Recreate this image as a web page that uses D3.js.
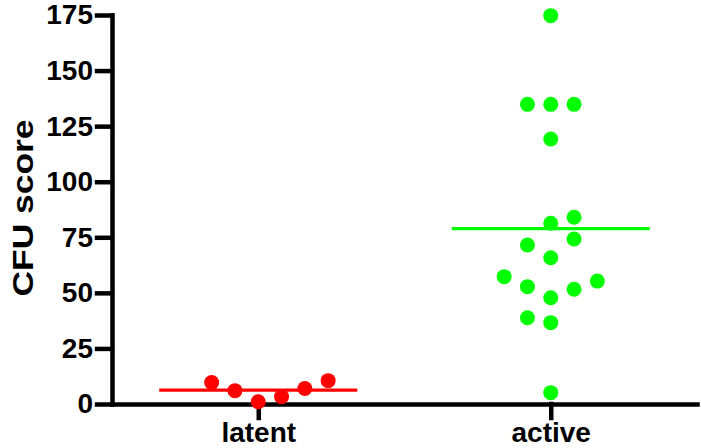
<!DOCTYPE html>
<html lang="en">
	<head>
		<meta charset="utf-8">
		<title></title>
		<script type="text/javascript" src="https://cdn.jsdelivr.net/npm/d3@7"></script>
		<style type="text/css">
			body { margin: 0; background: #fff; }
			text { font-family: Arial, "Liberation Sans", sans-serif; font-weight: bold; fill: #000; }
		</style>
	</head>
	<body>
		<script type="text/javascript">

			//Width and height
			var w = 701;
			var h = 448;

			//Data
			var categories = ["latent", "active"];
			var yTicks = [0, 25, 50, 75, 100, 125, 150, 175];

			var latentValues = [9.7, 6.0, 1.0, 3.3, 7.0, 10.5];
			var latentSlots  = [-2, -1, 0, 1, 2, 3];

			var activeValues = [174.7, 134.8, 134.8, 134.8, 119.2, 84.0, 81.3, 74.2, 71.5,
			                    65.8, 57.3, 55.3, 52.8, 51.6, 47.8, 38.8, 36.6, 5.1];
			var activeSlots  = [0, -1, 0, 1, 0, 1, 0, 1, -1,
			                    0, -2, 2, -1, 1, 0, -1, 0, 0];

			var colors = ["#ff0000", "#00ff00"];

			var groups = [
				{ name: categories[0], values: latentValues, slots: latentSlots, color: colors[0] },
				{ name: categories[1], values: activeValues, slots: activeSlots, color: colors[1] }
			];

			var svg = d3.select("body")
						.append("svg")
						.attr("width", w)
						.attr("height", h);

			var xScale = d3.scalePoint()
				.domain(categories)
				.range([112, 697])
				.padding(0.5);

			var yScale = d3.scaleLinear()
				.domain([0, 175])
				.range([404, 15]);

			//horizontal spread of the dots, in slot units
			var slotScale = d3.scaleLinear().domain([0, 1]).range([0, 23.3]);

			//Axes
			var yAxis = d3.axisLeft(yScale)
				.tickValues(yTicks)
				.tickSize(15)
				.tickSizeOuter(0)
				.tickPadding(4);

			var xAxis = d3.axisBottom(xScale)
				.tickSize(14)
				.tickSizeOuter(0)
				.tickPadding(4);

			var gx = svg.append("g")
				.attr("class", "axis")
				.attr("transform", "translate(0," + yScale(0) + ")")
				.call(xAxis);

			var gy = svg.append("g")
				.attr("class", "axis")
				.attr("transform", "translate(" + xScale.range()[0] + ",0)")
				.call(yAxis);

			svg.selectAll(".axis path, .axis line")
				.attr("stroke", "#000")
				.attr("stroke-width", 4.5)
				.attr("stroke-linecap", "square");

			svg.selectAll(".axis text")
				.attr("fill", "#000")
				.style("font-size", "28px")
				.style("font-family", "Arial, 'Liberation Sans', sans-serif")
				.style("font-weight", "bold");

			//Y title
			svg.append("text")
				.attr("transform", "translate(33,208) rotate(-90)")
				.attr("text-anchor", "middle")
				.attr("textLength", 177)
				.attr("lengthAdjust", "spacingAndGlyphs")
				.style("font-size", "30px")
				.text("CFU score");

			//Dots and mean lines
			groups.forEach(function(g) {
				var cx = xScale(g.name);

				svg.append("g")
					.selectAll("circle")
					.data(g.values)
					.enter()
					.append("circle")
					.attr("cx", function(d, i) { return cx + slotScale(g.slots[i]); })
					.attr("cy", function(d) { return yScale(d); })
					.attr("r", 7.5)
					.attr("fill", g.color);

				var m = d3.mean(g.values);
				svg.append("line")
					.attr("x1", cx - 99)
					.attr("x2", cx + 99)
					.attr("y1", yScale(m))
					.attr("y2", yScale(m))
					.attr("stroke", g.color)
					.attr("stroke-width", 3.3);
			});

		</script>
	</body>
</html>
